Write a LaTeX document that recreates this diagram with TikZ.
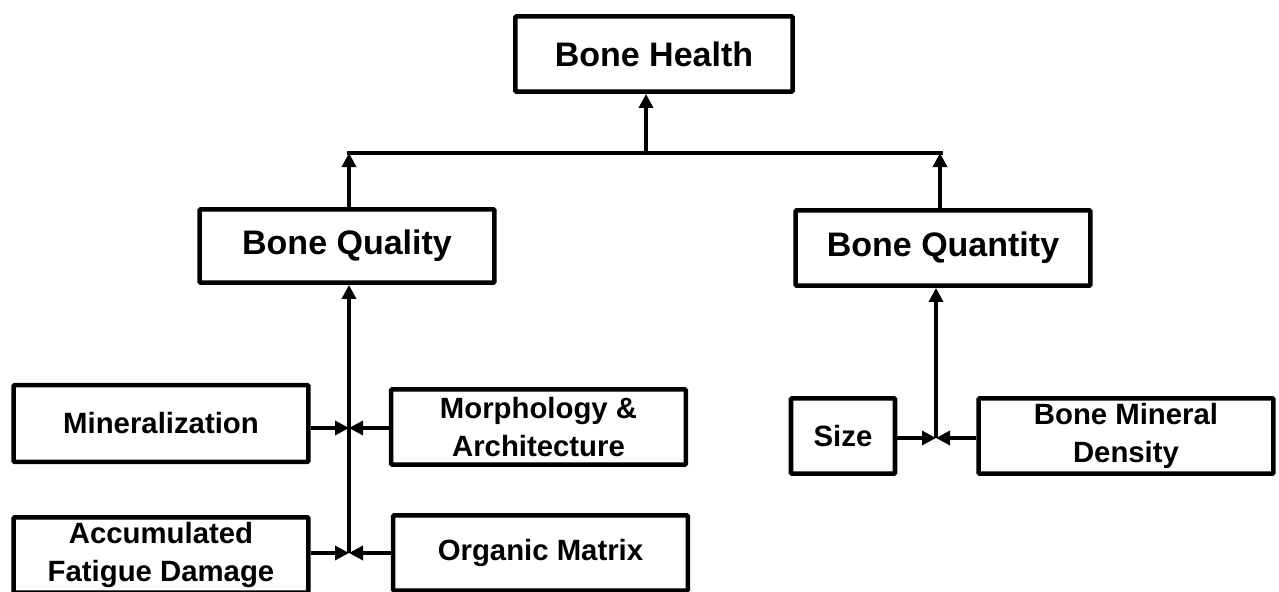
\documentclass[tikz,border=0pt]{standalone}
\usepackage{fontspec}
\setmainfont{Liberation Sans}
\usetikzlibrary{arrows.meta}
\begin{document}
\begin{tikzpicture}[x=0.75pt,y=-0.75pt,
  box/.style={draw,line width=3.4pt,rectangle,rounded corners=0.8pt,align=center,
    font=\fontsize{22}{28}\selectfont\bfseries,inner sep=0pt,
    minimum width=221pt,minimum height=56.5pt},
  big/.style={font=\fontsize{25.5}{30}\selectfont\bfseries},
  arr/.style={line width=2.5pt,-{Triangle[length=10.5pt,width=10.5pt]}},
  ln/.style={line width=2.5pt}]
\useasboundingbox (0,0) rectangle (1279,592);
% nodes
\node[box,big,minimum width=208pt] (health) at (654,54) {Bone Health};
\node[box,big,minimum height=55pt] (quality) at (347,246) {Bone Quality};
\node[box,big] (quantity) at (943,248) {Bone Quantity};
\node[box,minimum height=57.5pt] (mineral) at (161,423.5) {Mineralization};
\node[box] (morph) at (538.5,427) {Morphology \&\\Architecture};
\node[box] (fatigue) at (161,555) {Accumulated\\Fatigue Damage};
\node[box] (organic) at (540.5,553) {Organic Matrix};
\node[box,minimum width=78pt] (size) at (843,436) {Size};
\node[box] (bmd) at (1126,436) {Bone Mineral\\Density};
% junction coordinates
\coordinate (L) at (347,153);
\coordinate (R) at (943,153);
\coordinate (T) at (646,153);
\coordinate (J1) at (349,428);
\coordinate (J2) at (349,553);
\coordinate (J3) at (936,438);
% top level
\draw[ln] (L) -- (R);
\draw[arr] (T) -- (T |- health.south);
\draw[arr] ([xshift=1.5pt]quality.north) -- ([xshift=1.5pt]quality.north |- L);
\draw[arr] ([xshift=-2.25pt]quantity.north) -- ([xshift=-2.25pt]quantity.north |- R);
% bone quality subtree
\draw[arr] (J2) -- (J2 |- quality.south);
\draw[arr] (mineral.east |- J1) -- (J1);
\draw[arr] (morph.west |- J1) -- (J1);
\draw[arr] (fatigue.east |- J2) -- (J2);
\draw[arr] (organic.west |- J2) -- (J2);
% bone quantity subtree
\draw[arr] (J3) -- (J3 |- quantity.south);
\draw[arr] (size.east |- J3) -- (J3);
\draw[arr] (bmd.west |- J3) -- (J3);
\end{tikzpicture}
\end{document}
